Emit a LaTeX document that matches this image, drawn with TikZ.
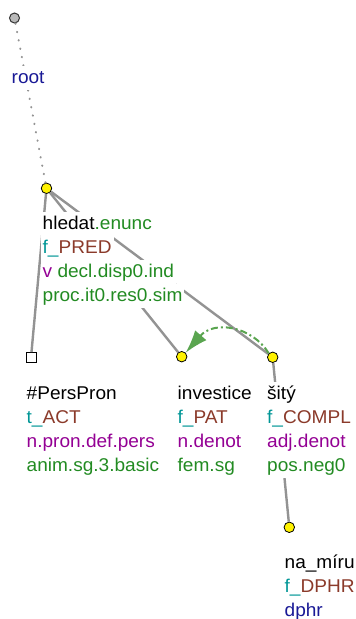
\documentclass[tikz,border=0pt]{standalone}
\usepackage{fontspec}
\setmainfont{Liberation Sans}[FakeStretch=1.03]
\usetikzlibrary{arrows.meta}
\definecolor{tgreen}{RGB}{34,139,34}
\definecolor{tteal}{RGB}{0,150,150}
\definecolor{tbrown}{RGB}{139,58,42}
\definecolor{tpurple}{RGB}{148,0,148}
\definecolor{tblue}{RGB}{25,25,150}
\definecolor{tarrow}{RGB}{90,165,80}

\begin{document}
\begin{tikzpicture}[x=1pt,y=-1pt,font=\fontsize{18.5}{24}\selectfont,
  edge/.style={draw=gray!85,line width=2.4pt},
  tnode/.style={circle,draw=black,fill=yellow,inner sep=0pt,minimum size=10.5pt,line width=0.8pt},
  lbl/.style={anchor=base west,fill=white,inner xsep=2pt,inner ysep=0pt,text height=17pt,text depth=7pt}]
\useasboundingbox (0,0) rectangle (356,619);
% tree nodes
\node[circle,draw=gray!40!black,fill=gray!55,inner sep=0pt,minimum size=10pt,line width=1pt] (root) at (14.5,18) {};
\node[tnode] (hledat) at (46.5,188.3) {};
\node[draw=black,fill=white,inner sep=0pt,minimum size=10pt,line width=0.8pt] (perspron) at (31,357.5) {};
\node[tnode] (investice) at (181.7,356.7) {};
\node[tnode] (sity) at (272.7,357.3) {};
\node[tnode] (namiru) at (289.3,527.3) {};
% edges
\draw[gray!85,line width=2pt,line cap=round,dash pattern=on 0.5pt off 8pt] (root) -- (hledat);
\draw[edge] (hledat) -- (perspron);
\draw[edge] (hledat) -- (investice);
\draw[edge] (hledat) -- (sity);
\draw[edge] (sity) -- (namiru);
% labels
\node[lbl,text=tblue] (rootl) at (9.5,83) {root};
\node[lbl] (hledat1) at (40.5,229) {hledat\textcolor{tgreen}{.enunc}};
\node[lbl] (hledat2) at (40.5,253) {\textcolor{tteal}{f\_}\textcolor{tbrown}{PRED}};
\node[lbl] (hledat3) at (40.5,277) {\textcolor{tpurple}{v} \textcolor{tgreen}{decl.disp0.ind}};
\node[lbl,text=tgreen] (hledat4) at (40.5,301) {proc.it0.res0.sim};
\node[lbl] (perspron1) at (24.5,399) {\#PersPron};
\node[lbl] (perspron2) at (24.5,423) {\textcolor{tteal}{t\_}\textcolor{tbrown}{ACT}};
\node[lbl,text=tpurple] (perspron3) at (24.5,447) {n.pron.def.pers};
\node[lbl,text=tgreen] (perspron4) at (24.5,471) {anim.sg.3.basic};
\node[lbl] (investice1) at (175.5,399) {investice};
\node[lbl] (investice2) at (175.5,423) {\textcolor{tteal}{f\_}\textcolor{tbrown}{PAT}};
\node[lbl,text=tpurple] (investice3) at (175.5,447) {n.denot};
\node[lbl,text=tgreen] (investice4) at (175.5,471) {fem.sg};
\node[lbl] (sity1) at (265,399) {šitý};
\node[lbl] (sity2) at (265,423) {\textcolor{tteal}{f\_}\textcolor{tbrown}{COMPL}};
\node[lbl,text=tpurple] (sity3) at (265,447) {adj.denot};
\node[lbl,text=tgreen] (sity4) at (265,471) {pos.neg0};
\node[lbl] (namiru1) at (282.5,568) {na\_míru};
\node[lbl] (namiru2) at (282.5,592) {\textcolor{tteal}{f\_}\textcolor{tbrown}{DPHR}};
\node[lbl,text=tblue] (namiru3) at (282.5,616) {dphr};
% coreference arrow
\draw[tarrow,line width=2pt,dash pattern=on 7pt off 3pt on 2pt off 3pt,-{Latex[length=23pt,width=15pt]}]
  (sity.north west) .. controls (252,326) and (214,320) .. (investice.north east);
\end{tikzpicture}
\end{document}
